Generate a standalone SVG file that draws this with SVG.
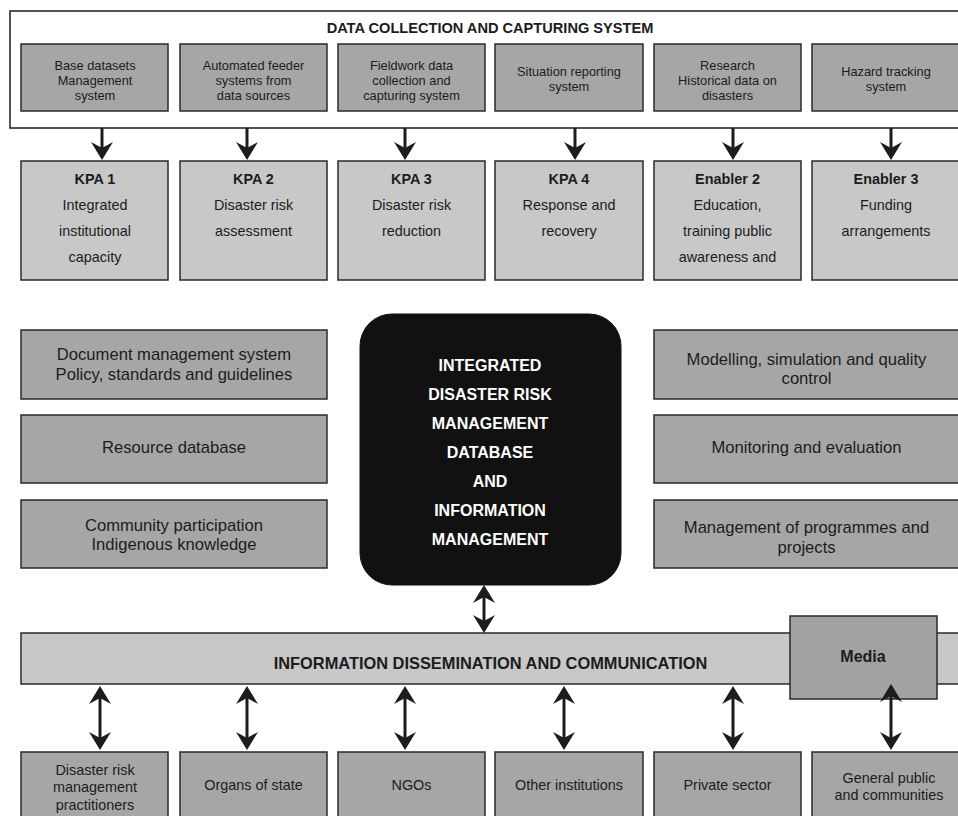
<svg xmlns="http://www.w3.org/2000/svg" width="958" height="816" viewBox="0 0 958 816">
  <defs>
    <style>
      text { font-family: "Liberation Sans", Arial, sans-serif; fill: #1c1c1c; text-anchor: middle; }
      .b { font-weight: bold; }
      .frame { fill: #ffffff; stroke: #2a2a2a; stroke-width: 1.6; }
      .src { fill: #a6a6a6; stroke: #2a2a2a; stroke-width: 1.5; }
      .kpa { fill: #c8c8c8; stroke: #2a2a2a; stroke-width: 1.5; }
      .mid { fill: #a6a6a6; stroke: #2a2a2a; stroke-width: 1.5; }
      .bar { fill: #c8c8c8; stroke: #2a2a2a; stroke-width: 1.5; }
      .media { fill: #a2a2a2; stroke: #2a2a2a; stroke-width: 1.5; }
      .core { fill: #111111; stroke: #111111; }
      .core-t { fill: #ffffff; font-weight: bold; font-size: 16px; }
      .t13 { font-size: 12.8px; }
      .t14 { font-size: 14.4px; }
      .t16 { font-size: 16.6px; }
      .link { stroke: #1c1c1c; stroke-width: 3; fill: none; }
      .one { marker-end: url(#head); }
      .two { marker-start: url(#head); marker-end: url(#head); }
    </style>
    <marker id="head" markerUnits="userSpaceOnUse" viewBox="-9 -12 22 24" markerWidth="22" markerHeight="24" refX="0" refY="0" orient="auto-start-reverse" overflow="visible">
      <path d="M10,0 L-8,-11 L-2,0 L-8,11 Z" fill="#1c1c1c"/>
    </marker>
  </defs>

  <!-- data collection frame -->
  <g id="data-collection">
    <rect class="frame" x="10" y="11" width="960" height="117"/>
    <text class="b" x="490" y="33" font-size="14.6">DATA COLLECTION AND CAPTURING SYSTEM</text>
  </g>

  <g id="src-base">
    <rect class="src" x="21" y="44" width="147" height="67"/>
    <text class="t13" x="95" y="69.5">Base datasets</text>
    <text class="t13" x="95" y="84.5">Management</text>
    <text class="t13" x="95" y="99.5">system</text>
  </g>
  <g id="src-feeder">
    <rect class="src" x="180" y="44" width="147" height="67"/>
    <text class="t13" x="253.5" y="69.5">Automated feeder</text>
    <text class="t13" x="253.5" y="84.5">systems from</text>
    <text class="t13" x="253.5" y="99.5">data sources</text>
  </g>
  <g id="src-fieldwork">
    <rect class="src" x="338" y="44" width="147" height="67"/>
    <text class="t13" x="411.5" y="69.5">Fieldwork data</text>
    <text class="t13" x="411.5" y="84.5">collection and</text>
    <text class="t13" x="411.5" y="99.5">capturing system</text>
  </g>
  <g id="src-situation">
    <rect class="src" x="495" y="44" width="148" height="67"/>
    <text class="t13" x="569" y="75.5">Situation reporting</text>
    <text class="t13" x="569" y="90.5">system</text>
  </g>
  <g id="src-research">
    <rect class="src" x="654" y="44" width="147" height="67"/>
    <text class="t13" x="727.5" y="69.5">Research</text>
    <text class="t13" x="727.5" y="84.5">Historical data on</text>
    <text class="t13" x="727.5" y="99.5">disasters</text>
  </g>
  <g id="src-hazard">
    <rect class="src" x="812" y="44" width="160" height="67"/>
    <text class="t13" x="886" y="75.5">Hazard tracking</text>
    <text class="t13" x="886" y="90.5">system</text>
  </g>

  <!-- key performance areas and enablers -->
  <g id="kpa1">
    <rect class="kpa" x="21" y="161" width="147" height="119"/>
    <text class="t14 b" x="95" y="184">KPA 1</text>
    <text class="t14" x="95" y="210">Integrated</text>
    <text class="t14" x="95" y="236">institutional</text>
    <text class="t14" x="95" y="262">capacity</text>
  </g>
  <g id="kpa2">
    <rect class="kpa" x="180" y="161" width="147" height="119"/>
    <text class="t14 b" x="253.5" y="184">KPA 2</text>
    <text class="t14" x="253.5" y="210">Disaster risk</text>
    <text class="t14" x="253.5" y="236">assessment</text>
  </g>
  <g id="kpa3">
    <rect class="kpa" x="338" y="161" width="147" height="119"/>
    <text class="t14 b" x="411.5" y="184">KPA 3</text>
    <text class="t14" x="411.5" y="210">Disaster risk</text>
    <text class="t14" x="411.5" y="236">reduction</text>
  </g>
  <g id="kpa4">
    <rect class="kpa" x="495" y="161" width="148" height="119"/>
    <text class="t14 b" x="569" y="184">KPA 4</text>
    <text class="t14" x="569" y="210">Response and</text>
    <text class="t14" x="569" y="236">recovery</text>
  </g>
  <g id="enabler2">
    <rect class="kpa" x="654" y="161" width="147" height="119"/>
    <text class="t14 b" x="727.5" y="184">Enabler 2</text>
    <text class="t14" x="727.5" y="210">Education,</text>
    <text class="t14" x="727.5" y="236">training public</text>
    <text class="t14" x="727.5" y="262">awareness and</text>
  </g>
  <g id="enabler3">
    <rect class="kpa" x="812" y="161" width="160" height="119"/>
    <text class="t14 b" x="886" y="184">Enabler 3</text>
    <text class="t14" x="886" y="210">Funding</text>
    <text class="t14" x="886" y="236">arrangements</text>
  </g>

  <!-- supporting systems, left -->
  <g id="documents">
    <rect class="mid" x="21" y="330" width="306" height="69"/>
    <text class="t16" x="174" y="360">Document management system</text>
    <text class="t16" x="174" y="380">Policy, standards and guidelines</text>
  </g>
  <g id="resources">
    <rect class="mid" x="21" y="415" width="306" height="68"/>
    <text class="t16" x="174" y="453">Resource database</text>
  </g>
  <g id="community">
    <rect class="mid" x="21" y="500" width="306" height="68"/>
    <text class="t16" x="174" y="531">Community participation</text>
    <text class="t16" x="174" y="550">Indigenous knowledge</text>
  </g>

  <!-- supporting systems, right -->
  <g id="modelling">
    <rect class="mid" x="654" y="330" width="320" height="69"/>
    <text class="t16" x="806.5" y="365">Modelling, simulation and quality</text>
    <text class="t16" x="806.5" y="384">control</text>
  </g>
  <g id="monitoring">
    <rect class="mid" x="654" y="415" width="320" height="68"/>
    <text class="t16" x="806.5" y="453">Monitoring and evaluation</text>
  </g>
  <g id="programmes">
    <rect class="mid" x="654" y="500" width="320" height="68"/>
    <text class="t16" x="806.5" y="533">Management of programmes and</text>
    <text class="t16" x="806.5" y="553">projects</text>
  </g>

  <!-- central database -->
  <g id="core-database">
    <rect class="core" x="360" y="314" width="261" height="271" rx="32" ry="32"/>
    <text class="core-t" x="490" y="371">INTEGRATED</text>
    <text class="core-t" x="490" y="400">DISASTER RISK</text>
    <text class="core-t" x="490" y="429">MANAGEMENT</text>
    <text class="core-t" x="490" y="458">DATABASE</text>
    <text class="core-t" x="490" y="487">AND</text>
    <text class="core-t" x="490" y="516">INFORMATION</text>
    <text class="core-t" x="490" y="545">MANAGEMENT</text>
  </g>

  <!-- dissemination bar -->
  <g id="dissemination">
    <rect class="bar" x="21" y="633" width="950" height="51"/>
    <text class="b" x="490.5" y="669" font-size="16.4">INFORMATION DISSEMINATION AND COMMUNICATION</text>
  </g>
  <g id="media">
    <rect class="media" x="790" y="616" width="147" height="83"/>
    <text class="b" x="863" y="662" font-size="16">Media</text>
  </g>

  <!-- audiences -->
  <g id="practitioners">
    <rect class="src" x="21" y="752" width="147" height="80"/>
    <text class="t14" x="95" y="775">Disaster risk</text>
    <text class="t14" x="95" y="792">management</text>
    <text class="t14" x="95" y="810">practitioners</text>
  </g>
  <g id="organs-of-state">
    <rect class="src" x="180" y="752" width="147" height="80"/>
    <text class="t14" x="253.5" y="790">Organs of state</text>
  </g>
  <g id="ngos">
    <rect class="src" x="338" y="752" width="147" height="80"/>
    <text class="t14" x="411.5" y="790">NGOs</text>
  </g>
  <g id="other-institutions">
    <rect class="src" x="495" y="752" width="148" height="80"/>
    <text class="t14" x="569" y="790">Other institutions</text>
  </g>
  <g id="private-sector">
    <rect class="src" x="654" y="752" width="147" height="80"/>
    <text class="t14" x="727.5" y="790">Private sector</text>
  </g>
  <g id="general-public">
    <rect class="src" x="812" y="752" width="160" height="80"/>
    <text class="t14" x="889" y="783">General public</text>
    <text class="t14" x="889" y="800">and communities</text>
  </g>

  <!-- connectors -->
  <g id="connectors">
    <line class="link one" x1="102" y1="128" x2="102" y2="150"/>
    <line class="link one" x1="247" y1="128" x2="247" y2="150"/>
    <line class="link one" x1="405" y1="128" x2="405" y2="150"/>
    <line class="link one" x1="575" y1="128" x2="575" y2="150"/>
    <line class="link one" x1="733" y1="128" x2="733" y2="150"/>
    <line class="link one" x1="891" y1="128" x2="891" y2="150"/>

    <line class="link two" x1="484" y1="595" x2="484" y2="623"/>

    <line class="link two" x1="100" y1="696" x2="100" y2="740"/>
    <line class="link two" x1="247" y1="696" x2="247" y2="740"/>
    <line class="link two" x1="405" y1="696" x2="405" y2="740"/>
    <line class="link two" x1="564" y1="696" x2="564" y2="740"/>
    <line class="link two" x1="733" y1="696" x2="733" y2="740"/>
    <line class="link two" x1="891" y1="694" x2="891" y2="740"/>
  </g>
</svg>
